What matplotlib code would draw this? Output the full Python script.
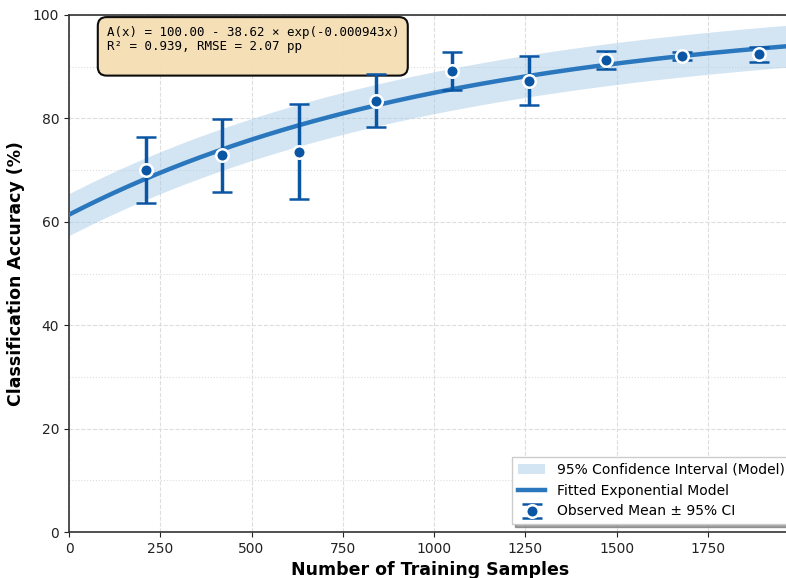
import numpy as np
import matplotlib
matplotlib.use("Agg")
import matplotlib.pyplot as plt
from matplotlib.ticker import MultipleLocator

# observed means and 95% CI bounds
SAMPLES = [210, 420, 630, 840, 1050, 1260, 1470, 1680, 1890]
MEAN = [70.0, 72.9, 73.5, 83.4, 89.2, 87.2, 91.3, 92.1, 92.5]
CI_LO = [63.6, 65.8, 64.4, 78.3, 85.5, 82.6, 89.6, 91.3, 90.9]
CI_HI = [76.4, 79.9, 82.8, 88.6, 92.8, 92.1, 93.0, 92.8, 93.9]

# fitted model A(x) = a - b*exp(-c x)
A_INF, B_AMP, C_RATE = 100.00, 38.62, 0.000943
R2, RMSE = 0.939, 2.07

fig = plt.figure(figsize=(7.86, 5.78), dpi=100)
ax = fig.add_axes([69 / 786, 46 / 578, 722 / 786, 517 / 578])

xs = np.linspace(0, 1980, 300)
fit = A_INF - B_AMP * np.exp(-C_RATE * xs)
half = 1.96 * RMSE
ax.fill_between(xs, fit - half, fit + half, color="#a9cce8", alpha=0.5,
                lw=0, label="95% Confidence Interval (Model)", zorder=2)
ax.plot(xs, fit, color="#2a77bd", lw=3.2, label="Fitted Exponential Model", zorder=3)

mean = np.array(MEAN)
yerr = [mean - np.array(CI_LO), np.array(CI_HI) - mean]
ax.errorbar(SAMPLES, mean, yerr=yerr, fmt="o", color="#0b56a4", ms=9,
            mec="white", mew=1.8, elinewidth=2.5, capsize=7, capthick=2.5,
            label="Observed Mean ± 95% CI", zorder=4)

ax.set_xlim(0, 1978)
ax.set_ylim(0, 100)
ax.xaxis.set_major_locator(MultipleLocator(250))
ax.yaxis.set_major_locator(MultipleLocator(20))
ax.yaxis.set_minor_locator(MultipleLocator(10))
ax.tick_params(axis="y", which="minor", length=0)
ax.grid(which="major", ls="--", lw=0.8, color="#dddddd", zorder=0)
ax.grid(which="minor", axis="y", ls=":", lw=0.8, color="#dddddd", zorder=0)
for s in ax.spines.values():
    s.set_color("#333333")
    s.set_linewidth(1.2)
ax.tick_params(labelsize=10, colors="#222222")

ax.set_xlabel("Number of Training Samples", fontsize=12.5, fontweight="bold")
ax.set_ylabel("Classification Accuracy (%)", fontsize=12.5, fontweight="bold", labelpad=6)

txt = (f"A(x) = {A_INF:.2f} - {B_AMP:.2f} × exp(-{C_RATE:.6f}x)\n"
       f"R² = {R2:.3f}, RMSE = {RMSE:.2f} pp\n ")
ax.text(0.052, 0.979, txt, transform=ax.transAxes, va="top", ha="left",
        family="DejaVu Sans Mono", fontsize=9, linespacing=1.1,
        bbox=dict(boxstyle="round,pad=0.7", fc="#f5deb3", ec="black", lw=1.5, alpha=0.95))

ax.legend(loc="lower right", bbox_to_anchor=(790 / 786, 54 / 578),
          bbox_transform=fig.transFigure, fontsize=10, fancybox=False,
          shadow=True, framealpha=1, borderaxespad=0)

fig.savefig("out.png", dpi=100)
